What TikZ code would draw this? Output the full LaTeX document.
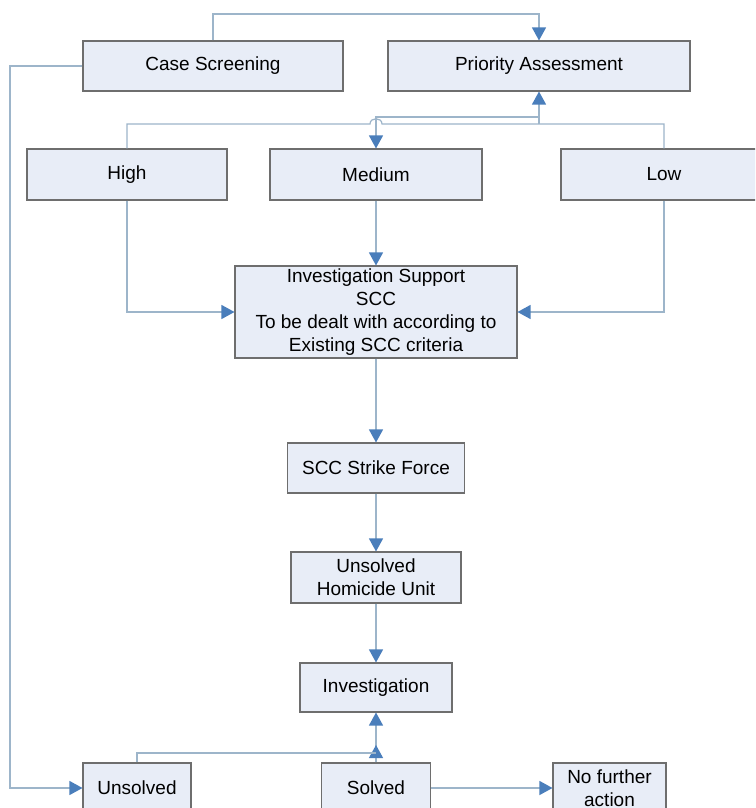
\documentclass[tikz,border=0pt]{standalone}
\usepackage{fontspec}
\setmainfont{Liberation Sans}
\usetikzlibrary{arrows.meta}
\definecolor{boxfill}{HTML}{E8EDF7}
\definecolor{boxline}{HTML}{6E6E6E}
\definecolor{conline}{HTML}{9DB5CA}
\definecolor{arrblue}{HTML}{4A7EBB}
\tikzset{
  box/.style={draw=boxline, fill=boxfill, line width=1.1pt, inner sep=0pt,
    align=center, font=\fontsize{19}{23}\selectfont},
  conn/.style={draw=conline, line width=1.2pt},
  arr/.style={conn, -{Triangle[length=13pt,width=14pt,color=arrblue,fill=arrblue]}}
}
\begin{document}
\begin{tikzpicture}[x=1pt,y=-1pt]
\useasboundingbox (0,0) rectangle (755,808);
\clip (0,0) rectangle (755,808);
\fill[white] (0,0) rectangle (755,808);
% nodes
\node[box, minimum width=260pt, minimum height=50pt] (cs) at (213,66) {Case Screening};
\node[box, minimum width=302pt, minimum height=50pt] (pa) at (539,66) {Priority Assessment};
\node[box, minimum width=200pt, minimum height=51pt] (high) at (127,174.5) {High};
\node[box, minimum width=212pt, minimum height=51pt] (med) at (376,174.5) {Medium};
\node[box, minimum width=206pt, minimum height=51pt] (low) at (664,174.5) {Low};
\node[box, minimum width=282pt, minimum height=92pt] (iss) at (376,312)
  {Investigation Support\\SCC\\To be dealt with according to\\Existing SCC criteria};
\node[box, minimum width=177pt, minimum height=50pt] (sf) at (376,468) {SCC Strike Force};
\node[box, minimum width=170pt, minimum height=51pt] (uh) at (376,577.5) {Unsolved\\Homicide Unit};
\node[box, minimum width=152pt, minimum height=49pt] (inv) at (376,687.5) {Investigation};
\node[box, minimum width=108pt, minimum height=50pt] (uns) at (137,788) {Unsolved};
\node[box, minimum width=109pt, minimum height=50pt] (sol) at (376,788) {Solved};
\node[box, minimum width=113pt, minimum height=50pt] (nfa) at (609.5,788) {No further\\action};
% junction coordinates
\coordinate (ttop) at (539,14);
\coordinate (lft) at (10,788);
\coordinate (hl) at (127,124);
\coordinate (hr) at (664,124);
\coordinate (jpa) at (539,124);
\coordinate (jmed) at (539,117);
\coordinate (jun) at (376,753);
\coordinate (amid) at (376,745);
% connectors
\draw[arr] (cs.north) |- (ttop) -- (pa.north);
\draw[arr] (cs.west) -| (lft) -- (uns.west);
\draw[conn] (high.north) -- (hl) -- (370,124) .. controls (370,117) and (382,117) .. (382,124) -- (hr) -- (low.north);
\draw[arr] (jpa) -- (pa.south);
\draw[arr] (jmed) -| (med.north);
\draw[arr] (med.south) -- (iss.north);
\draw[arr] (high.south) |- (iss.west);
\draw[arr] (low.south) |- (iss.east);
\draw[arr] (iss.south) -- (sf.north);
\draw[arr] (sf.south) -- (uh.north);
\draw[arr] (uh.south) -- (inv.north);
\draw[arr] (sol.north) -- (inv.south);
\draw[arr] (sol.north) -- (amid);
\draw[conn] (uns.north) |- (jun);
\draw[arr] (sol.east) -- (nfa.west);
\end{tikzpicture}
\end{document}
